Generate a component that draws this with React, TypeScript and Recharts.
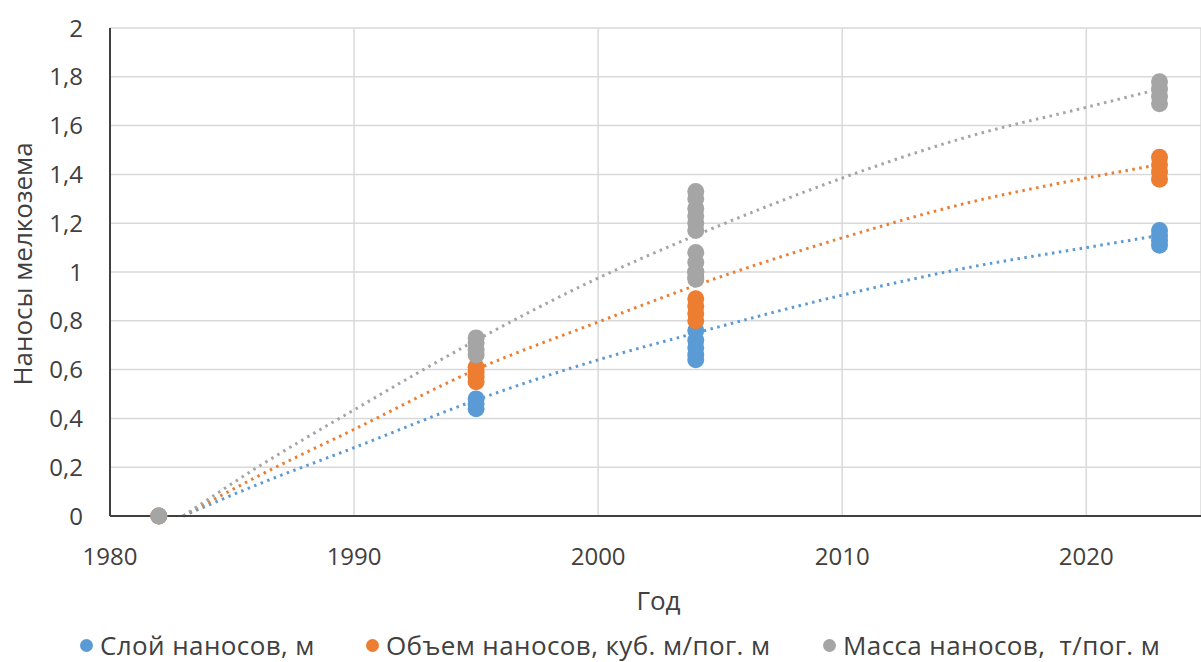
import React from 'react';
import {
  ComposedChart,
  Line,
  Scatter,
  XAxis,
  YAxis,
  CartesianGrid,
  Legend,
} from 'recharts';

// measured points
const blueYears = [1982, 1995, 1995, 1995, 2004, 2004, 2004, 2004, 2004, 2023, 2023, 2023, 2023];
const blueValues = [0, 0.44, 0.46, 0.48, 0.64, 0.66, 0.69, 0.72, 0.76, 1.11, 1.13, 1.15, 1.17];

const orangeYears = [1982, 1995, 1995, 1995, 1995, 2004, 2004, 2004, 2004, 2004, 2004, 2023, 2023, 2023, 2023];
const orangeValues = [0, 0.55, 0.57, 0.59, 0.61, 0.8, 0.83, 0.86, 0.89, 0.98, 1.0, 1.38, 1.41, 1.44, 1.47];

const grayYears = [1982, 1995, 1995, 1995, 1995, 2004, 2004, 2004, 2004, 2004, 2004, 2004, 2004, 2004, 2004, 2023, 2023, 2023, 2023];
const grayValues = [0, 0.66, 0.68, 0.71, 0.73, 0.97, 1.0, 1.04, 1.08, 1.17, 1.2, 1.23, 1.26, 1.3, 1.33, 1.69, 1.72, 1.75, 1.78];

// trend lines
const trendYears = [1983, 1986, 1990, 1995, 2000, 2004, 2010, 2015, 2020, 2023];
const blueTrend = [0, 0.127, 0.28, 0.475, 0.64, 0.75, 0.905, 1.015, 1.1, 1.15];
const orangeTrend = [0, 0.16, 0.355, 0.6, 0.795, 0.945, 1.14, 1.28, 1.385, 1.44];
const grayTrend = [0, 0.197, 0.435, 0.72, 0.975, 1.15, 1.385, 1.55, 1.675, 1.75];

const xTicks = [1980, 1990, 2000, 2010, 2020];
const yTicks = [0, 0.2, 0.4, 0.6, 0.8, 1, 1.2, 1.4, 1.6, 1.8, 2];

const seriesNames = ['Слой наносов, м', 'Объем наносов, куб. м/пог. м', 'Масса наносов,  т/пог. м'];
const colors = ['#5B9BD5', '#ED7D31', '#A5A5A5'];

const toPoints = (xs: number[], ys: number[]) => xs.map((x, i) => ({ x, y: ys[i] }));

const blueData = toPoints(blueYears, blueValues);
const orangeData = toPoints(orangeYears, orangeValues);
const grayData = toPoints(grayYears, grayValues);
const blueTrendData = toPoints(trendYears, blueTrend);
const orangeTrendData = toPoints(trendYears, orangeTrend);
const grayTrendData = toPoints(trendYears, grayTrend);

const FONT = '"Open Sans", sans-serif';
const TEXT = '#404040';

const dot = (color: string) => (props: any) => (
  <circle cx={props.cx} cy={props.cy} r={8.5} fill={color} />
);

const fmt = (v: number) => String(v).replace('.', ',');

const LegendBox = () => (
  <div style={{ position: 'relative', height: 36, fontFamily: FONT, fontSize: 26, color: TEXT }}>
    {seriesNames.map((name, i) => (
      <div
        key={name}
        style={{ position: 'absolute', left: [80, 366, 823][i], top: 3, display: 'flex', alignItems: 'center', whiteSpace: 'pre', lineHeight: '32px', letterSpacing: 0.4 }}
      >
        <span style={{ width: 13, height: 13, borderRadius: '50%', background: colors[i], marginRight: 7, display: 'inline-block' }} />
        {name}
      </div>
    ))}
  </div>
);

const App: React.FC = () => {
  return (
    <div style={{ width: 1201, height: 662, background: '#fff', overflow: 'hidden' }}>
      <style>{`body{margin:0}`}</style>
      <ComposedChart width={1201} height={662} margin={{ top: 28, right: 0, bottom: 0, left: 0 }}>
        <CartesianGrid stroke="#D9D9D9" strokeWidth={1.5} />
        <XAxis
          type="number"
          dataKey="x"
          domain={[1980, 2024.7]}
          ticks={xTicks}
          allowDataOverflow
          height={110}
          tickSize={0}
          tickMargin={32}
          axisLine={{ stroke: '#404040', strokeWidth: 2 }}
          tick={{ fill: TEXT, fontSize: 24, fontFamily: FONT }}
          label={{ value: 'Год', position: 'insideBottom', offset: 16, dx: 3, fill: TEXT, fontSize: 26, fontFamily: FONT }}
        />
        <YAxis
          type="number"
          dataKey="y"
          domain={[0, 2]}
          ticks={yTicks}
          width={110}
          tickSize={0}
          tickMargin={27}
          tickFormatter={fmt}
          axisLine={{ stroke: '#404040', strokeWidth: 2 }}
          tick={{ fill: TEXT, fontSize: 24, fontFamily: FONT }}
          label={(props: any) => {
            const vb = props.viewBox;
            const cy = vb.y + vb.height / 2 - 8;
            return (
              <text
                x={22}
                y={cy}
                transform={`rotate(-90, 22, ${cy})`}
                textAnchor="middle"
                dominantBaseline="central"
                fill={TEXT}
                fontSize={26}
                fontFamily={FONT}
              >
                Наносы мелкозема
              </text>
            );
          }}
        />
        <Legend verticalAlign="bottom" content={() => <LegendBox />} wrapperStyle={{ height: 36 }} />
        <Line data={blueTrendData} dataKey="y" type="monotone" stroke={colors[0]} strokeWidth={3} strokeDasharray="2.5 4.5" dot={false} isAnimationActive={false} legendType="none" />
        <Line data={orangeTrendData} dataKey="y" type="monotone" stroke={colors[1]} strokeWidth={3} strokeDasharray="2.5 4.5" dot={false} isAnimationActive={false} legendType="none" />
        <Line data={grayTrendData} dataKey="y" type="monotone" stroke={colors[2]} strokeWidth={3} strokeDasharray="2.5 4.5" dot={false} isAnimationActive={false} legendType="none" />
        <Scatter name={seriesNames[0]} data={blueData} fill={colors[0]} shape={dot(colors[0])} isAnimationActive={false} />
        <Scatter name={seriesNames[1]} data={orangeData} fill={colors[1]} shape={dot(colors[1])} isAnimationActive={false} />
        <Scatter name={seriesNames[2]} data={grayData} fill={colors[2]} shape={dot(colors[2])} isAnimationActive={false} />
      </ComposedChart>
    </div>
  );
};

export default App;
